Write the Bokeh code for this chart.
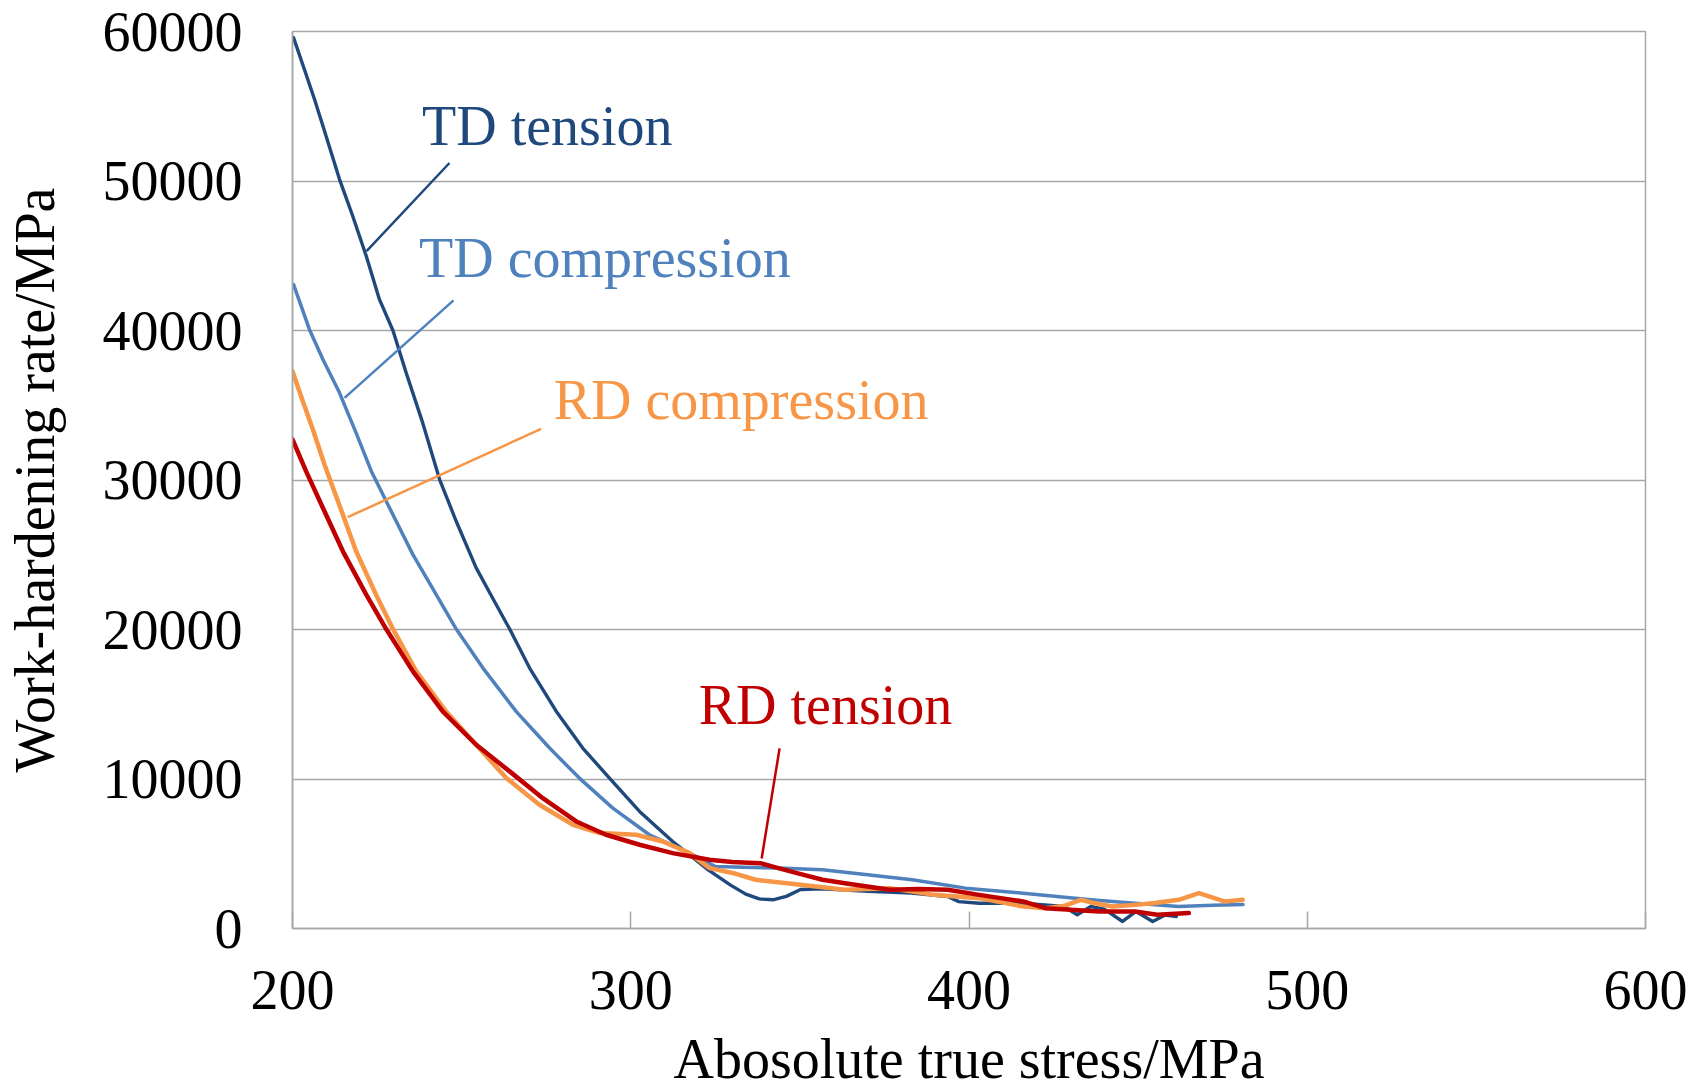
from bokeh.plotting import figure
from bokeh.models import Range1d, FixedTicker
from bokeh.core.properties import value
from bokeh.embed import file_html
from bokeh.resources import INLINE

# ---------------- data ----------------
td_tension_x = [200.3, 203.5, 206.5, 209, 213.9, 217.8, 221.8, 225.7, 229.7, 233.6, 238.5,
                243.5, 248.4, 254.3, 260.2, 264.2, 270.1, 278, 285.8, 293.7, 302.6, 312.4,
                317.4, 323, 329.4, 334, 338, 342, 346, 350.2, 356.7, 370, 383, 393.7, 397,
                403, 416, 428, 432, 436, 440, 445.4, 449.4, 454.3, 458, 461.3]
td_tension_y = [59590, 57470, 55470, 53680, 50110, 47660, 44980, 42080, 40000, 37170, 33820,
                30030, 27240, 24120, 21670, 20030, 17420, 14520, 12070, 10060, 7830, 5820,
                4930, 3900, 2920, 2300, 1980, 1920, 2150, 2610, 2650, 2480, 2363, 2140, 1800,
                1690, 1690, 1470, 917, 1470, 1300, 470, 1140, 470, 900, 800]

td_comp_x = [200.3, 205, 209, 213.9, 218.8, 223.3, 228.7, 235.6, 242.5, 248.4, 256.3, 266.1,
             276, 284.8, 294.7, 305.5, 317.4, 325, 343.6, 356.7, 370, 383.2, 399, 416, 436,
             449, 462, 472, 481]
td_comp_y = [43080, 40070, 38060, 35830, 33150, 30590, 28130, 25010, 22330, 20030, 17420, 14520,
             12070, 10060, 8050, 6270, 5040, 4150, 4040, 3930, 3590, 3260, 2700, 2360, 1920,
             1690, 1470, 1550, 1600]

rd_comp_x = [200, 203, 206, 209.5, 213.9, 218.8, 224.7, 229.7, 236.6, 245.4, 254.3, 263.2,
             273, 282.9, 290.8, 301.6, 309.5, 317.4, 323.3, 330.4, 336.9, 350.2, 363.3,
             376.5, 389.7, 403, 416, 422.6, 428, 433, 437, 442.4, 449, 455, 462, 468,
             475.5, 480.9]
rd_comp_y = [37280, 35300, 33400, 31000, 28300, 25230, 22330, 20030, 17200, 14520, 12290, 10060,
             8280, 6940, 6380, 6270, 5820, 5040, 4040, 3700, 3260, 2920, 2590,
             2700, 2250, 2030, 1470, 1360, 1500, 1920, 1700, 1470, 1580, 1700, 1920, 2360,
             1810, 1920]

rd_tension_x = [200, 204, 209, 214.9, 221.8, 227.7, 235.6, 244.4, 254.3, 264.2, 274, 283.9,
                292.7, 302.6, 312.4, 323.3, 330, 338.3, 343.6, 350, 356.7, 363.3, 376.5,
                385, 393.7, 403, 416, 422.6, 438.6, 449, 455.7, 465]
rd_tension_y = [32710, 30590, 28130, 25230, 22330, 20030, 17200, 14520, 12290, 10510, 8720, 7160,
                6270, 5600, 5040, 4600, 4450, 4370, 4040, 3650, 3260, 3030, 2590,
                2650, 2590, 2250, 1810, 1360, 1140, 1140, 920, 1030]

series_names = ["TD tension", "TD compression", "RD compression", "RD tension"]
x_ticks = [200, 300, 400, 500, 600]
y_ticks = [0, 10000, 20000, 30000, 40000, 50000, 60000]

# annotation label anchors (data coords) and leader lines
label_x = [238.3, 237.4, 277.2, 320.1]
label_y = [53680, 44870, 35320, 14975]
leader_x0 = [246.4, 247.6, 273.5, 344.0]
leader_y0 = [51205, 42015, 33420, 12048]
leader_x1 = [221.9, 215.4, 216.3, 338.7]
leader_y1 = [45315, 35495, 27510, 4685]

colors = ["#1F497D", "#4F81BD", "#F79646", "#C00000"]
widths = [3.4, 3.5, 4.5, 4.5]

FONT = "Liberation Serif"
GRID = "#A6A6A6"

p = figure(width=1692, height=1075, output_backend="svg", toolbar_location=None,
           x_range=Range1d(200, 600), y_range=Range1d(0, 60000),
           min_border_left=289, min_border_right=50, min_border_top=31, min_border_bottom=147)
p.frame_width = 1353
p.frame_height = 897

p.background_fill_color = "white"
p.border_fill_color = "white"
p.outline_line_color = GRID
p.outline_line_width = 1.5

p.xgrid.visible = False
p.ygrid.ticker = FixedTicker(ticks=y_ticks)
p.ygrid.grid_line_color = GRID
p.ygrid.grid_line_width = 1.5

p.xaxis.ticker = FixedTicker(ticks=x_ticks)
p.yaxis.ticker = FixedTicker(ticks=y_ticks)
for ax in (p.xaxis[0], p.yaxis[0]):
    ax.axis_line_color = GRID
    ax.axis_line_width = 1.5
    ax.major_tick_line_color = GRID
    ax.major_tick_line_width = 1.5
    ax.minor_tick_line_color = None
    ax.major_label_text_font = FONT
    ax.major_label_text_font_size = "56px"
    ax.major_label_text_color = "black"
    ax.axis_label_text_font = FONT
    ax.axis_label_text_font_size = "56px"
    ax.axis_label_text_font_style = "normal"
    ax.axis_label_text_color = "black"

p.xaxis.major_tick_in = 17
p.xaxis.major_tick_out = 0
p.yaxis.major_tick_in = 0
p.yaxis.major_tick_out = 0
p.xaxis.major_label_standoff = 42
p.yaxis.major_label_standoff = 50
p.xaxis.axis_label = "Abosolute true stress/MPa"
p.yaxis.axis_label = "Work-hardening rate/MPa"
p.xaxis.axis_label_standoff = 16
p.yaxis.axis_label_standoff = 34

xs = [td_tension_x, td_comp_x, rd_comp_x, rd_tension_x]
ys = [td_tension_y, td_comp_y, rd_comp_y, rd_tension_y]
for x, y, c, w in zip(xs, ys, colors, widths):
    p.line(x, y, line_color=c, line_width=w, line_join="round", line_cap="round")

p.segment(x0=leader_x0, y0=leader_y0, x1=leader_x1, y1=leader_y1,
          line_color=colors, line_width=2.5)

p.text(x=label_x, y=label_y, text=series_names, text_color=colors,
       text_font=value(FONT), text_font_size="56px",
       text_align="left", text_baseline="alphabetic")

open("out.html", "w").write(file_html(p, INLINE))
